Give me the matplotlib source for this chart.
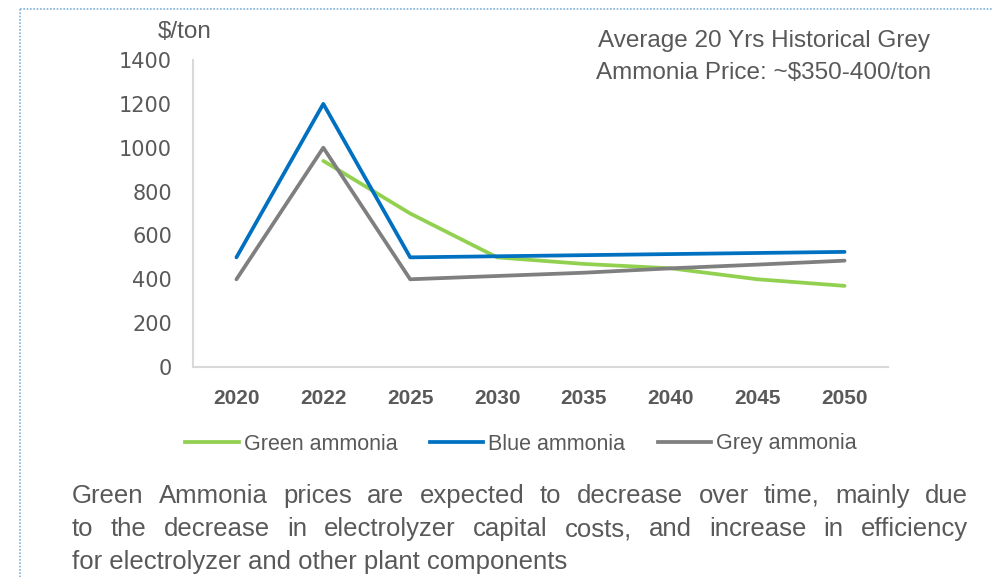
import numpy as np
import matplotlib.pyplot as plt
from matplotlib.lines import Line2D

years = ['2020', '2022', '2025', '2030', '2035', '2040', '2045', '2050']
green = [np.nan, 940, 700, 500, 470, 450, 400, 370]
blue = [500, 1200, 500, 505, 510, 515, 520, 525]
grey = [400, 1000, 400, 415, 430, 450, 467, 485]

series_names = ['Green ammonia', 'Blue ammonia', 'Grey ammonia']
series_colors = ['#92D050', '#0070C0', '#7F7F7F']

note_lines = [
    'Green Ammonia prices are expected to decrease over time, mainly due',
    'to the decrease in electrolyzer capital costs, and increase in efficiency',
    'for electrolyzer and other plant components',
]

txt = '#595959'
plt.rcParams['font.family'] = ['Liberation Sans', 'DejaVu Sans']

W, H = 993, 577
fig = plt.figure(figsize=(W / 100, H / 100), dpi=100)

# dotted frame along the top and left
frame = fig.add_axes([0, 0, 1, 1], zorder=-1)
frame.set_xlim(0, W)
frame.set_ylim(H, 0)
frame.axis('off')
frame.plot([20, W], [9, 9], color='#7FB2D8', lw=1.2, ls=(0, (1, 1)))
frame.plot([20, 20], [9, H], color='#7FB2D8', lw=1.2, ls=(0, (1, 1)))

ax = fig.add_axes([193 / W, 1 - 367 / H, (888 - 193) / W, (367 - 60) / H])
x = np.arange(len(years))
for vals, name, col in zip([green, blue, grey], series_names, series_colors):
    ax.plot(x, vals, color=col, lw=2.7, label=name, solid_capstyle='round')

ax.set_xlim(-0.5, len(years) - 0.5)
ax.set_ylim(0, 1400)
ax.set_yticks(range(0, 1401, 200))
ax.set_yticklabels([str(v) for v in range(0, 1401, 200)], fontfamily='DejaVu Sans',
                   fontsize=15, color=txt)
ax.set_xticks(x)
ax.set_xticklabels(years, fontweight='bold', fontsize=15, color=txt)
ax.tick_params(axis='y', length=0, pad=15)
ax.tick_params(axis='x', length=0, pad=16)
for s in ['top', 'right']:
    ax.spines[s].set_visible(False)
for s in ['left', 'bottom']:
    ax.spines[s].set_color('#D9D9D9')
    ax.spines[s].set_linewidth(1.5)

fig.text(158 / W, 1 - 38 / H, '$/ton', fontsize=17.5, color=txt, va='baseline', ha='left')
fig.text(764 / W, 1 - 47 / H, 'Average 20 Yrs Historical Grey',
         fontsize=17.5, color=txt, ha='center', va='baseline')
fig.text(764 / W, 1 - 79 / H, 'Ammonia Price: ~$350-400/ton',
         fontsize=17.5, color=txt, ha='center', va='baseline')

handles = [Line2D([], [], color=c, lw=2.7) for c in series_colors]
fig.legend(handles, series_names, loc='center', bbox_to_anchor=(521 / W, 1 - 444 / H),
           ncol=3, frameon=False, handlelength=2.5, handletextpad=0.23, columnspacing=1.5,
           fontsize=15.5, labelcolor=txt, borderpad=0)

# justified paragraph below the chart
fig.canvas.draw()
rend = fig.canvas.get_renderer()
x0, x1 = 72, 968
note_size = 18.5
for i, line in enumerate(note_lines):
    y = 1 - (503 + 33 * i) / H
    if i == len(note_lines) - 1:
        fig.text(x0 / W, y, line, fontsize=note_size, color=txt, va='baseline', ha='left')
        continue
    words = line.split(' ')
    objs = [fig.text(0, y, w, fontsize=note_size, color=txt, va='baseline', ha='left')
            for w in words]
    widths = [o.get_window_extent(rend).width for o in objs]
    gap = (x1 - x0 - sum(widths)) / (len(words) - 1)
    pos = x0
    for o, wd in zip(objs, widths):
        o.set_x(pos / W)
        pos += wd + gap

fig.savefig('out.png', dpi=100)
